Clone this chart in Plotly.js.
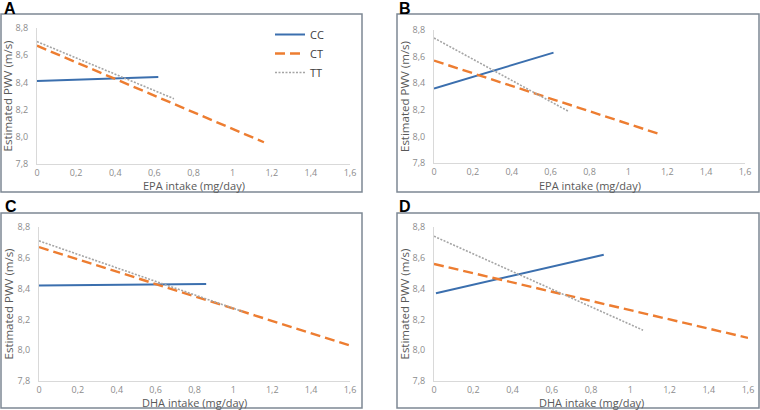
<!DOCTYPE html>
<html>
<head>
<meta charset="utf-8">
<script src="https://cdn.plot.ly/plotly-3.0.1.min.js"></script>
<style>html,body{margin:0;padding:0;background:#fff;}#chart{width:760px;height:410px;}</style>
</head>
<body>
<div id="chart"></div>
<script>
// ---- data ----
const seriesNames = ["CC", "CT", "TT"];
const panelLabels = ["A", "B", "C", "D"];
const xTitles = ["EPA intake (mg/day)", "EPA intake (mg/day)", "DHA intake (mg/day)", "DHA intake (mg/day)"];
const yTitle = "Estimated PWV (m/s)";
const xTickVals = [0, 0.2, 0.4, 0.6, 0.8, 1, 1.2, 1.4, 1.6];
const xTickText = ["0", "0,2", "0,4", "0,6", "0,8", "1", "1,2", "1,4", "1,6"];
const yTickVals = [7.8, 8.0, 8.2, 8.4, 8.6, 8.8];
const yTickText = ["7,8", "8,0", "8,2", "8,4", "8,6", "8,8"];

// Panel A (EPA)
const xA_CC = [0, 0.62],  yA_CC = [8.41, 8.44];
const xA_CT = [0, 1.16],  yA_CT = [8.67, 7.96];
const xA_TT = [0, 0.70],  yA_TT = [8.70, 8.28];
// Panel B (EPA)
const xB_CC = [0, 0.615], yB_CC = [8.36, 8.63];
const xB_CT = [0, 1.155], yB_CT = [8.57, 8.02];
const xB_TT = [0, 0.69],  yB_TT = [8.74, 8.19];
// Panel C (DHA)
const xC_CC = [0, 0.86],  yC_CC = [8.42, 8.43];
const xC_CT = [0, 1.6],   yC_CT = [8.67, 8.03];
const xC_TT = [0, 1.05],  yC_TT = [8.71, 8.25];
// Panel D (DHA)
const xD_CC = [0.01, 0.865], yD_CC = [8.37, 8.62];
const xD_CT = [0, 1.6],      yD_CT = [8.56, 8.08];
const xD_TT = [0, 1.065],    yD_TT = [8.74, 8.13];

const panelData = [
  [[xA_CC, yA_CC], [xA_CT, yA_CT], [xA_TT, yA_TT]],
  [[xB_CC, yB_CC], [xB_CT, yB_CT], [xB_TT, yB_TT]],
  [[xC_CC, yC_CC], [xC_CT, yC_CT], [xC_TT, yC_TT]],
  [[xD_CC, yD_CC], [xD_CT, yD_CT], [xD_TT, yD_TT]]
];

// ---- styling ----
const W = 760, H = 410;
const lineStyles = [
  {color: "#3b6fae", width: 2, dash: "solid"},
  {color: "#ed7d31", width: 2.4, dash: "10px,5px"},
  {color: "#a5a5a5", width: 1.6, dash: "2px,1.5px"}
];
// plot areas in pixels: [left, right, top(8.8), bottom(7.8)]
const areas = [
  [37, 350, 28, 164],
  [434, 745, 30, 163],
  [39, 350, 227, 381],
  [434, 748, 227, 381]
];
// frames in pixels: [left, right, top, bottom]
const frames = [
  [1, 362, 14, 192],
  [397, 759, 14, 192],
  [1, 362, 213, 408],
  [397, 759, 213, 408]
];
const labelPos = [[2, 0], [397, 0], [3, 198], [397, 198]];
const xTitleY = [186, 186, 402, 402];
const yTitleStandoff = [2, 0, 1, 0];

const px = v => v / W, py = v => 1 - v / H;

const traces = [];
panelData.forEach((p, i) => {
  const ax = i === 0 ? "" : String(i + 1);
  p.forEach((s, j) => {
    traces.push({
      type: "scatter", mode: "lines",
      x: s[0], y: s[1],
      name: seriesNames[j],
      legendgroup: seriesNames[j],
      showlegend: i === 0,
      xaxis: "x" + ax, yaxis: "y" + ax,
      line: lineStyles[j],
      hoverinfo: "skip"
    });
  });
});

const layout = {
  width: W, height: H,
  margin: {l: 0, r: 0, t: 0, b: 0},
  paper_bgcolor: "#ffffff", plot_bgcolor: "#ffffff",
  font: {family: "Open Sans, sans-serif", color: "#7f7f7f", size: 9},
  showlegend: true,
  legend: {
    x: px(270), y: py(20), xanchor: "left", yanchor: "top",
    bgcolor: "rgba(0,0,0,0)", font: {size: 11, color: "#404040"},
    tracegroupgap: 0, itemwidth: 30
  },
  shapes: [], annotations: []
};

areas.forEach((a, i) => {
  const ax = i === 0 ? "" : String(i + 1);
  layout["xaxis" + ax] = {
    domain: [px(a[0]), px(a[1])],
    range: [0, 1.6], fixedrange: true,
    anchor: "y" + ax,
    tickmode: "array", tickvals: xTickVals, ticktext: xTickText,
    showgrid: false, zeroline: false,
    showline: true, linecolor: "#d9d9d9", linewidth: 1,
    ticks: "", ticklabelstandoff: 0,
    tickfont: {size: 9, color: "#8c8c8c"},
    automargin: false
  };
  layout["yaxis" + ax] = {
    domain: [py(a[3]), py(a[2])],
    range: [7.8, 8.8], fixedrange: true,
    anchor: "x" + ax,
    tickmode: "array", tickvals: yTickVals, ticktext: yTickText,
    showgrid: false, zeroline: false,
    showline: true, linecolor: "#d9d9d9", linewidth: 1,
    ticks: "", ticklabelstandoff: 6,
    tickfont: {size: 9, color: "#8c8c8c"},
    title: {text: yTitle, font: {size: 11.5, color: "#595959"}, standoff: yTitleStandoff[i]},
    automargin: false
  };
  // x-axis title, centred under the plot area
  layout.annotations.push({
    text: xTitles[i], xref: "paper", yref: "paper",
    x: px((a[0] + a[1]) / 2), y: py(xTitleY[i]), xanchor: "center", yanchor: "middle",
    showarrow: false, font: {size: 11, color: "#595959"}
  });
});

frames.forEach(f => {
  layout.shapes.push({
    type: "rect", xref: "paper", yref: "paper",
    x0: px(f[0]), x1: px(f[1]), y0: py(f[3]), y1: py(f[2]),
    line: {color: "#7d8894", width: 1.5}, fillcolor: "rgba(0,0,0,0)", layer: "above"
  });
});

panelLabels.forEach((t, i) => {
  layout.annotations.push({
    text: "<b>" + t + "</b>", xref: "paper", yref: "paper",
    x: px(labelPos[i][0]), y: py(labelPos[i][1] - 2), xanchor: "left", yanchor: "top",
    showarrow: false, font: {family: "Liberation Sans, Arial, sans-serif", size: 16, color: "#000"}
  });
});

Plotly.newPlot("chart", traces, layout, {displayModeBar: false, staticPlot: true});
</script>
</body>
</html>
